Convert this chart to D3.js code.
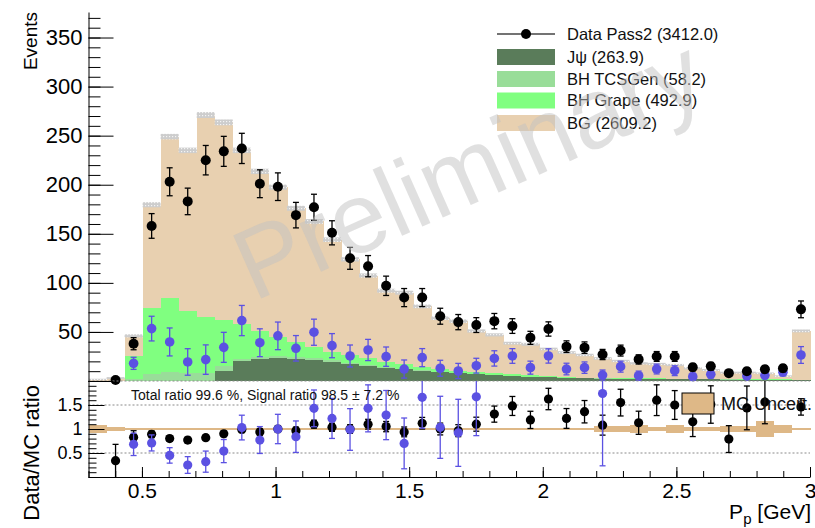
<!DOCTYPE html>
<html>
<head>
<meta charset="utf-8">
<script src="https://cdn.jsdelivr.net/npm/d3@7"></script>
<style>
  html, body { margin: 0; padding: 0; background: #fff; }
  svg { display: block; font-family: "Liberation Sans", Arial, Helvetica, sans-serif; }
</style>
</head>
<body>
<svg id="chart" width="815" height="528"></svg>
<script>
// ---- Binning: 40 bins of proton momentum between 0.3 and 3.0 GeV ----
const binEdges = d3.range(41).map(i => 0.3 + i * 0.0675);

// ---- Data (events per bin) ----
const dataCounts = [null, 1, 38, 158, 203, 183, 225, 234, 237, 201, 198, 169, 177, 151, 125, 117, 97, 85, 85, 66,
                    60, 57, 61, 56, 44, 53, 35, 34, 27, 31, 22, 25, 25, 14, 15, 8, 10, 12, 13, 73];

// ---- MC components (events per bin), stacked bottom to top ----
const jpsi  = [0, 0, 0, 0, 0, 0, 0, 10, 20.4, 22.4, 23, 22.4, 21.4, 19.7, 17, 15.3, 13.6, 11.9, 10.5, 8.8,
               7.8, 6.8, 5.8, 5.1, 4.4, 3.7, 3, 2.7, 2.5, 2.3, 2.1, 2, 1.8, 1.7, 1.6, 1.5, 1.4, 1.3, 1.2, 0.8];
const tcs   = [0, 0, 2, 7.5, 9, 8, 8.5, 5, 2.5, 2, 2, 1.8, 1.6, 1.4, 1.2, 1, 0.9, 0.8, 0.7, 0.6,
               0.5, 0.5, 0.1, 0.1, 0.1, 0.1, 0.1, 0.1, 0.1, 0.1, 0.1, 0.1, 0.1, 0.1, 0.1, 0.1, 0.1, 0.1, 0.1, 0.1];
const grape = [0, 0, 23.5, 66.5, 76, 63.4, 57.1, 47.2, 34.9, 26.6, 20.2, 15.8, 11.5, 8.2, 8.3, 6.8, 5.2, 4.3, 3.4, 2.5,
               1.9, 1.5, 1.9, 1.6, 1.6, 1.3, 0.5, 0.5, 0.5, 0.5, 0.5, 0.5, 0.5, 0.5, 0.5, 0.5, 0.5, 0.5, 0.5, 0.5];
const bg    = [1.5, 3, 20.5, 105.6, 164, 163.6, 205.4, 201.3, 177.2, 162.6, 152.3, 136, 128.1, 114.7, 97.5, 84.4, 72.3, 73, 61.4, 52.1,
               50.8, 42.2, 39.2, 31.7, 31.3, 27.5, 25.4, 23.2, 19.9, 17.5, 15.3, 14.7, 13.9, 10.7, 9.0, 6.4, 6.5, 5.9, 3.2, 49.6];
// MC statistical uncertainty on the stack (events)
const mcStatErr = [0.8, 1, 1.6, 2.6, 2.8, 2.8, 3, 3, 2.8, 2.7, 2.6, 2.5, 2.4, 2.3, 2.2, 2.1, 2, 2, 1.9, 1.8,
                   1.8, 1.7, 1.6, 1.5, 1.5, 1.4, 1.4, 1.3, 1.3, 1.2, 1.2, 1.2, 1.1, 1.1, 1, 1, 1, 0.9, 0.8, 1.5];

// ---- Background-subtracted data (events per bin) ----
const signalExcess = [null, null, 18, 53.4, 39.8, 19.4, 21.8, 34.3, 61.6, 39, 46, 33.3, 49.7, 36, 25.5, 31.6, 24.8, 12.2, 23.8, 13,
                      10.2, 15.6, 23, 25.5, 13.6, 25.5, 12.2, 13.6, 6, 14.6, 5.4, 12.2, 10.5, 4.4, 6.8, null, 5, 5.8, 8.9, 26.5];

// ---- Ratios ----
const ratioAll = [null, 0.34, 0.83, 0.89, 0.80, 0.77, 0.82, 0.90, 0.99, 0.94, 1.0, 0.965, 1.10, 1.035, 1.0, 1.10, 1.05, 0.94, 1.12, 1.0,
                  0.965, 1.10, 1.31, 1.48, 1.19, 1.625, 1.22, 1.36, 1.08, 1.55, 1.13, 1.60, 1.5, 1.15, 1.51, 0.79, 1.44, 1.56, null, 1.46];
const ratioSignal = [null, null, 0.68, 0.71, 0.45, 0.25, 0.32, 0.54, 1.03, 0.77, 1.0, 0.84, 1.43, 1.22, 0.99, 1.43, 1.29, 0.70, 1.66, 1.035,
                     0.92, 1.67, null, null, null, null, null, null, 1.74, null, null, null, null, null, null, null, null, null, null, null];
const mcRelUnc = [0.08, 0.05, 0.025, 0.025, 0.025, 0.025, 0.025, 0.025, 0.025, 0.025, 0.025, 0.025, 0.025, 0.025, 0.025, 0.025, 0.025, 0.025, 0.025, 0.025,
                  0.025, 0.025, 0.025, 0.025, 0.025, 0.025, 0.025, 0.025, 0.06, 0.06, 0.075, 0.05, 0.085, 0.05, 0.05, 0.06, 0.06, 0.16, 0.08, 0.02];

// ---- Legend ----
const legendLabels = ["Data Pass2 (3412.0)", "J\u03C8 (263.9)", "BH TCSGen (58.2)", "BH Grape (492.9)", "BG (2609.2)"];
const ratioNote = "Total ratio 99.6 %, Signal ratio 98.5 \u00B1 7.2 %";

const colors = { jpsi: "#5a7c5a", tcs: "#99dd99", grape: "#80ff80", bg: "#e8d0b0" };
const blue = "#5b51e2";
const band = "#deb887";

const svg = d3.select("#chart");
const x = d3.scaleLinear().domain([0.3, 3.0]).range([88.5, 810]);
const yTop = d3.scaleLinear().domain([0, 376]).range([381, 12]);
const yRat = d3.scaleLinear().domain([0, 2]).range([477, 381]);

const rows = d3.range(40).map(i => ({
  i, lo: binEdges[i], hi: binEdges[i + 1], mid: (binEdges[i] + binEdges[i + 1]) / 2,
  jpsi: jpsi[i], tcs: tcs[i], grape: grape[i], bg: bg[i]
}));

// ---- Stacked MC histogram ----
const layers = d3.stack().keys(["jpsi", "tcs", "grape", "bg"])(rows);
const gStack = svg.append("g").attr("shape-rendering", "crispEdges");
layers.forEach(layer => {
  gStack.append("g").selectAll("rect")
    .data(layer.filter(d => d[1] > d[0]))
    .join("rect")
    .attr("x", d => x(d.data.lo))
    .attr("width", d => x(d.data.hi) - x(d.data.lo) + 0.6)
    .attr("y", d => yTop(d[1]))
    .attr("height", d => yTop(d[0]) - yTop(d[1]))
    .attr("fill", colors[layer.key]);
});

// MC uncertainty band on the stack (dotted fill)
const defs = svg.append("defs");
const pat = defs.append("pattern").attr("id", "mcdots")
  .attr("width", 3).attr("height", 3).attr("patternUnits", "userSpaceOnUse");
pat.append("rect").attr("width", 3).attr("height", 3).attr("fill", "#cdcdcd");
pat.append("rect").attr("x", 1).attr("y", 1).attr("width", 1.2).attr("height", 1.2).attr("fill", "#f4f4f4");

const totals = rows.map(r => r.jpsi + r.tcs + r.grape + r.bg);
svg.append("g").selectAll("rect")
  .data(rows)
  .join("rect")
  .attr("x", d => x(d.lo))
  .attr("width", d => x(d.hi) - x(d.lo))
  .attr("y", d => yTop(totals[d.i] + mcStatErr[d.i]))
  .attr("height", d => yTop(totals[d.i] - mcStatErr[d.i]) - yTop(totals[d.i] + mcStatErr[d.i]))
  .attr("fill", "url(#mcdots)");

// ---- Points with error bars ----
function drawPoints(g, pts, yScale, color, r, clip) {
  const cap = 3;
  const grp = g.append("g");
  pts.forEach(p => {
    const cx = x(p.xv);
    let lo = p.v - p.e, hi = p.v + p.e;
    if (clip) { lo = Math.max(lo, clip[0]); hi = Math.min(hi, clip[1]); }
    grp.append("line").attr("x1", cx).attr("x2", cx)
      .attr("y1", yScale(lo)).attr("y2", yScale(hi))
      .attr("stroke", color).attr("stroke-width", 1.3);
    [lo, hi].forEach(v => {
      if (clip && (v <= clip[0] || v >= clip[1])) return;
      grp.append("line").attr("x1", cx - cap).attr("x2", cx + cap)
        .attr("y1", yScale(v)).attr("y2", yScale(v))
        .attr("stroke", color).attr("stroke-width", 1.3);
    });
  });
  grp.selectAll("circle").data(pts).join("circle")
    .attr("cx", d => x(d.xv)).attr("cy", d => yScale(d.v)).attr("r", r)
    .attr("fill", color);
}

const bluePts = rows.filter(r => signalExcess[r.i] != null)
  .map(r => ({ xv: r.mid, v: signalExcess[r.i], e: Math.sqrt(dataCounts[r.i]) }));
const dataPts = rows.filter(r => dataCounts[r.i] != null)
  .map(r => ({ xv: r.mid, v: dataCounts[r.i], e: Math.sqrt(dataCounts[r.i]) }));
drawPoints(svg, bluePts, yTop, blue, 4.8, [0, 376]);
drawPoints(svg, dataPts, yTop, "#000", 5, [0, 376]);

// ---- Ratio panel ----
const gRat = svg.append("g");
[0.5, 1.5, 2.0].forEach(v => {
  gRat.append("line").attr("x1", x(0.3)).attr("x2", x(3.0))
    .attr("y1", yRat(v)).attr("y2", yRat(v))
    .attr("stroke", "#8a8a8a").attr("stroke-width", 1).attr("stroke-dasharray", "2,2");
});
gRat.append("g").attr("shape-rendering", "crispEdges").selectAll("rect")
  .data(rows)
  .join("rect")
  .attr("x", d => x(d.lo))
  .attr("width", d => x(d.hi) - x(d.lo) + 0.5)
  .attr("y", d => yRat(1 + mcRelUnc[d.i]))
  .attr("height", d => yRat(1 - mcRelUnc[d.i]) - yRat(1 + mcRelUnc[d.i]))
  .attr("fill", band);

const ratioAllPts = rows.filter(r => ratioAll[r.i] != null)
  .map(r => ({ xv: r.mid, v: ratioAll[r.i], e: ratioAll[r.i] / Math.sqrt(dataCounts[r.i]) }));
const ratioSigPts = rows.filter(r => ratioSignal[r.i] != null)
  .map(r => ({ xv: r.mid, v: ratioSignal[r.i], e: ratioSignal[r.i] * Math.sqrt(dataCounts[r.i]) / signalExcess[r.i] }));
drawPoints(gRat, ratioAllPts, yRat, "#000", 4.6, [0, 2]);
drawPoints(gRat, ratioSigPts, yRat, blue, 4.6, [0, 2]);

// ---- Axes ----
function styleAxis(g) {
  g.selectAll("path.domain").attr("stroke", "#000").attr("stroke-width", 1);
  g.selectAll(".tick line").attr("stroke", "#000").attr("stroke-width", 1);
  g.selectAll(".tick text").attr("fill", "#000").attr("font-family", '"Liberation Sans", Arial, sans-serif');
}

// top panel y axis
const gTopMinor = svg.append("g").attr("transform", "translate(88.5,0)")
  .call(d3.axisLeft(yTop).tickValues(d3.range(0, 371, 10)).tickSize(-12).tickFormat(""));
gTopMinor.select(".domain").remove();
const gTopMajor = svg.append("g").attr("transform", "translate(88.5,0)")
  .call(d3.axisLeft(yTop).tickValues(d3.range(0, 351, 50)).tickSizeInner(-25).tickSizeOuter(0).tickPadding(6)
    .tickFormat(d => d === 0 ? "" : d));
gTopMajor.attr("font-size", 22);
styleAxis(gTopMinor); styleAxis(gTopMajor);

// ratio y axis
const gRatMinor = svg.append("g").attr("transform", "translate(88.5,0)")
  .call(d3.axisLeft(yRat).tickValues(d3.range(0, 2.0001, 0.1)).tickSize(-8).tickFormat(""));
gRatMinor.select(".domain").remove();
const gRatMajor = svg.append("g").attr("transform", "translate(88.5,0)")
  .call(d3.axisLeft(yRat).tickValues([0, 0.5, 1, 1.5, 2]).tickSizeInner(-16).tickSizeOuter(0).tickPadding(6)
    .tickFormat(d => (d === 0 || d === 2) ? "" : d3.format("~g")(d)));
gRatMajor.attr("font-size", 18);
styleAxis(gRatMinor); styleAxis(gRatMajor);

// x axis
const gXMinor = svg.append("g").attr("transform", "translate(0,477)")
  .call(d3.axisBottom(x).tickValues(d3.range(0.3, 3.0001, 0.1)).tickSize(-6).tickFormat(""));
gXMinor.select(".domain").remove();
const gXMajor = svg.append("g").attr("transform", "translate(0,477)")
  .call(d3.axisBottom(x).tickValues([0.5, 1, 1.5, 2, 2.5, 3]).tickSizeInner(-10).tickSizeOuter(0).tickPadding(6)
    .tickFormat(d3.format("~g")));
gXMajor.attr("font-size", 21);
styleAxis(gXMinor); styleAxis(gXMajor);

// ---- Axis titles ----
svg.append("text")
  .attr("transform", "translate(37,12) rotate(-90)")
  .attr("text-anchor", "end").attr("font-size", 19).attr("fill", "#000")
  .text("Events");
svg.append("text")
  .attr("transform", "translate(39,385) rotate(-90)")
  .attr("text-anchor", "end").attr("font-size", 22).attr("fill", "#000")
  .text("Data/MC ratio");
const xt = svg.append("text").attr("x", 811).attr("y", 519)
  .attr("text-anchor", "end").attr("font-size", 21).attr("fill", "#000");
xt.append("tspan").text("P");
xt.append("tspan").attr("font-size", 15).attr("dy", 5).text("p");
xt.append("tspan").attr("dy", -5).text(" [GeV]");

// ---- Ratio annotation ----
svg.append("text").attr("x", 131).attr("y", 400).attr("font-size", 14).attr("fill", "#111")
  .text(ratioNote);

// ---- Legend (top panel) ----
const lg = svg.append("g");
const rowY = [34, 57, 79, 100.5, 123];
lg.append("line").attr("x1", 497).attr("x2", 555).attr("y1", rowY[0]).attr("y2", rowY[0])
  .attr("stroke", "#444").attr("stroke-width", 1.3);
lg.append("circle").attr("cx", 526).attr("cy", rowY[0]).attr("r", 5).attr("fill", "#000");
["jpsi", "tcs", "grape", "bg"].forEach((k, j) => {
  lg.append("rect").attr("x", 497).attr("y", rowY[j + 1] - 8).attr("width", 58).attr("height", 16)
    .attr("fill", colors[k]);
});
legendLabels.forEach((t, j) => {
  lg.append("text").attr("x", 567).attr("y", rowY[j]).attr("dy", "0.36em")
    .attr("font-size", 16.5).attr("fill", "#111").text(t);
});

// ---- Legend (ratio panel) ----
svg.append("rect").attr("x", 682).attr("y", 393).attr("width", 32).attr("height", 21)
  .attr("fill", band).attr("stroke", "#000").attr("stroke-width", 1);
svg.append("text").attr("x", 721).attr("y", 404).attr("dy", "0.36em")
  .attr("font-size", 18).attr("fill", "#111").text("MC Uncert.");

// ---- Watermark ----
svg.append("text")
  .attr("transform", "translate(468,168) rotate(-24)")
  .attr("text-anchor", "middle").attr("dy", "0.35em")
  .attr("font-size", 100).attr("fill", "rgb(194,194,194)").attr("fill-opacity", 0.5)
  .text("Preliminary");
</script>
</body>
</html>
